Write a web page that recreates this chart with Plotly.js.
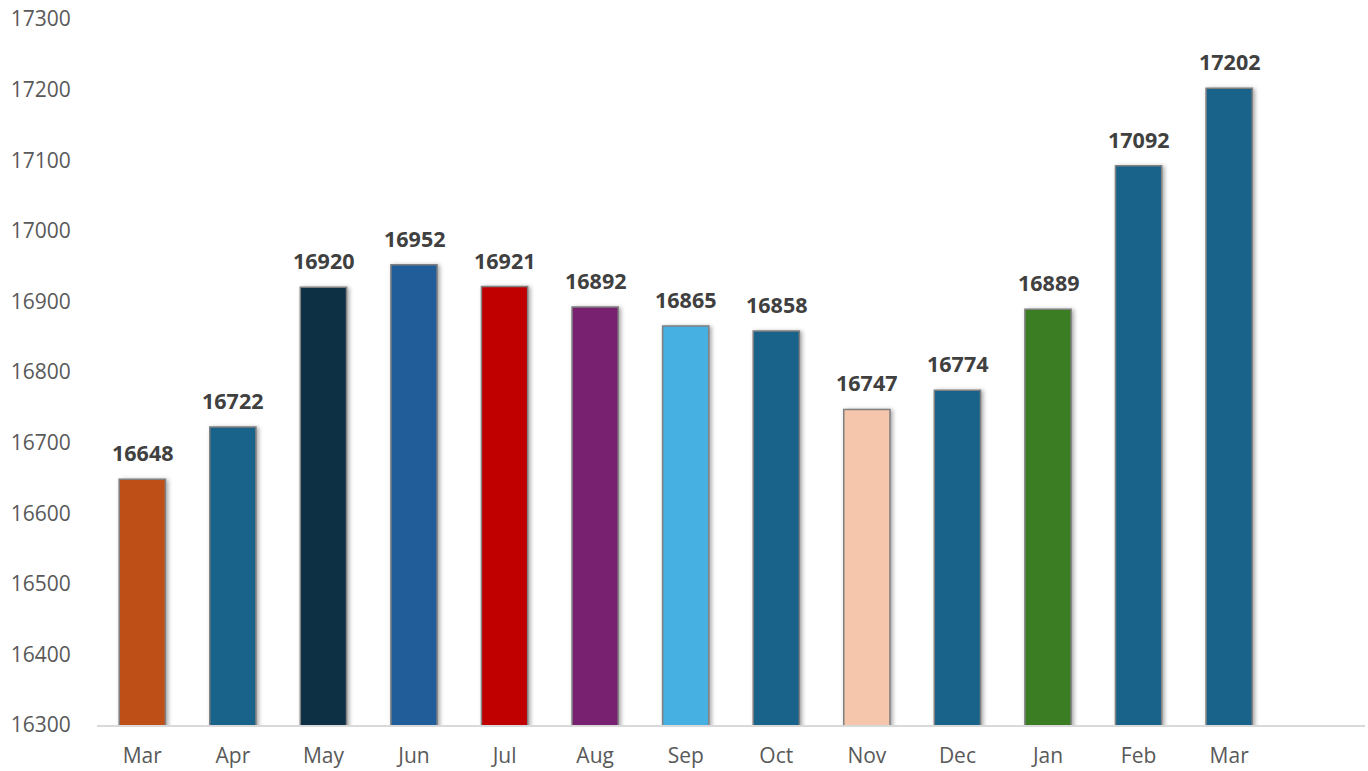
<!DOCTYPE html>
<html>
<head>
<meta charset="utf-8">
<script src="https://cdn.plot.ly/plotly-3.0.1.min.js"></script>
<style>
  html, body { margin: 0; padding: 0; background: #ffffff; }
  #chart { width: 1368px; height: 771px; }
</style>
</head>
<body>
<div id="chart"></div>
<script>
// ---- data ----
const months = ["Mar", "Apr", "May", "Jun", "Jul", "Aug", "Sep", "Oct", "Nov", "Dec", "Jan", "Feb", "Mar"];
const values = [16648, 16722, 16920, 16952, 16921, 16892, 16865, 16858, 16747, 16774, 16889, 17092, 17202];
const barColors = ["#BE4F16", "#19628A", "#0D3045", "#215E99", "#C00000", "#782170", "#45B0E1",
                   "#19628A", "#F6C6AC", "#19628A", "#3B7D23", "#19628A", "#19628A"];
const yTicks = [16300, 16400, 16500, 16600, 16700, 16800, 16900, 17000, 17100, 17200, 17300];

const xs = months.map((m, i) => i);
const FONT = "Open Sans, Lato, sans-serif";

const trace = {
  type: "bar",
  x: xs,
  y: values,
  base: 0,
  width: 0.51,
  marker: { color: barColors, line: { color: "#808080", width: 1.5 } },
  hoverinfo: "skip"
};

const annotations = values.map((v, i) => ({
  x: xs[i], y: v, xref: "x", yref: "y",
  text: "<b>" + v + "</b>",
  showarrow: false, yanchor: "bottom", yshift: 10,
  font: { family: FONT, size: 21.5, color: "#404040" }
}));

const layout = {
  width: 1368, height: 771,
  margin: { l: 97, r: 3, t: 19, b: 46 },
  paper_bgcolor: "#ffffff", plot_bgcolor: "#ffffff",
  showlegend: false,
  bargap: 0.49,
  xaxis: {
    range: [-0.5, 13.5],
    tickvals: xs, ticktext: months,
    showgrid: false, zeroline: false,
    showline: true, linecolor: "#D9D9D9", linewidth: 2,
    ticks: "outside", ticklen: 11, tickcolor: "rgba(0,0,0,0)",
    tickfont: { family: FONT, size: 21, color: "#595959" },
    fixedrange: true
  },
  yaxis: {
    range: [16300, 17300],
    tickvals: yTicks, ticktext: yTicks.map(String),
    showgrid: false, zeroline: false, showline: false,
    ticks: "outside", ticklen: 21, tickcolor: "rgba(0,0,0,0)",
    tickfont: { family: FONT, size: 21, color: "#595959" },
    fixedrange: true
  },
  annotations: annotations
};

Plotly.newPlot("chart", [trace], layout, { displayModeBar: false, staticPlot: true }).then(gd => {
  gd.querySelectorAll(".barlayer .point path").forEach(p => {
    p.style.filter = "drop-shadow(2px 1px 2px rgba(0,0,0,0.35))";
  });
});
</script>
</body>
</html>
